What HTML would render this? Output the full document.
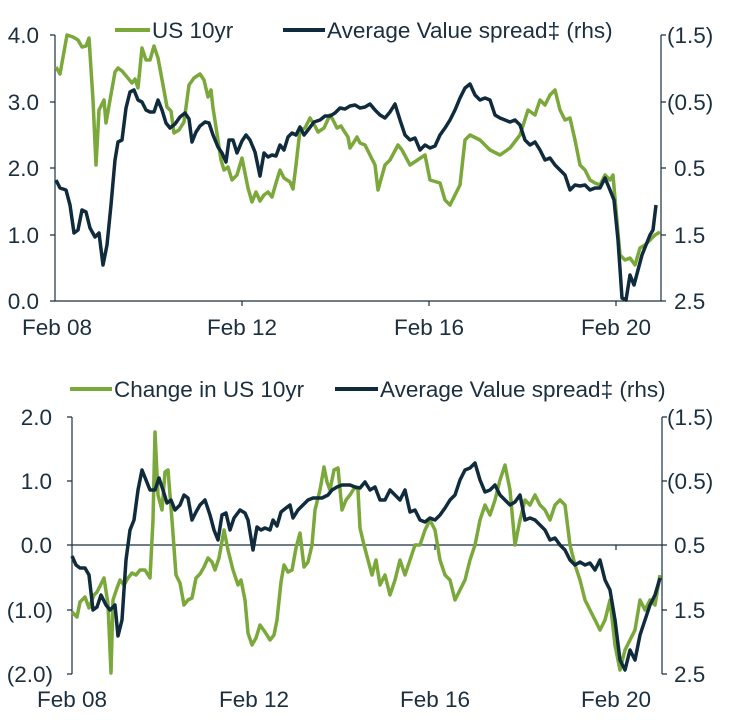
<!DOCTYPE html><html><head><style>body{margin:0;background:#fff}svg text{font-family:"Liberation Sans",Arial,sans-serif;fill:#1b2f3f}</style></head><body>
<svg width="732" height="717" xmlns="http://www.w3.org/2000/svg">
<g stroke="#1b2f3f" stroke-width="1.2" fill="none">
<path d="M55,35V301H661V35"/>
<path d="M50,35H55M50,102H55M50,168H55M50,235H55M50,301H55M661,35H666M661,102H666M661,168H666M661,235H666M661,301H666M242,301V306M429,301V306M616,301V306"/>
<path d="M72,417V674M67,417H72M67,481H72M67,545H72M67,610H72M67,674H72M72,545H662M662,417V674M662,417H667M662,481H667M662,545H667M662,610H667M662,674H667M254,545V550M435,545V550M616,545V550"/>
</g>
<g font-size="22.5">
<text x="39" y="43" text-anchor="end">4.0</text><text x="39" y="110" text-anchor="end">3.0</text><text x="39" y="176" text-anchor="end">2.0</text><text x="39" y="243" text-anchor="end">1.0</text><text x="39" y="309" text-anchor="end">0.0</text>
<text x="667" y="43">(1.5)</text><text x="667" y="110">(0.5)</text><text x="674" y="176">0.5</text><text x="674" y="243">1.5</text><text x="674" y="309">2.5</text>
<text x="57" y="335" text-anchor="middle">Feb 08</text><text x="242" y="335" text-anchor="middle">Feb 12</text><text x="429" y="335" text-anchor="middle">Feb 16</text><text x="616" y="335" text-anchor="middle">Feb 20</text>
<text x="52" y="425" text-anchor="end">2.0</text><text x="52" y="489" text-anchor="end">1.0</text><text x="52" y="553" text-anchor="end">0.0</text><text x="53" y="618" text-anchor="end">(1.0)</text><text x="53" y="682" text-anchor="end">(2.0)</text>
<text x="667" y="425">(1.5)</text><text x="667" y="489">(0.5)</text><text x="674" y="553">0.5</text><text x="674" y="618">1.5</text><text x="674" y="682">2.5</text>
<text x="72" y="707" text-anchor="middle">Feb 08</text><text x="254" y="707" text-anchor="middle">Feb 12</text><text x="435" y="707" text-anchor="middle">Feb 16</text><text x="616" y="707" text-anchor="middle">Feb 20</text>
<text x="152" y="38">US 10yr</text><text x="327" y="38">Average Value spread‡ (rhs)</text>
<text x="114" y="397">Change in US 10yr</text><text x="380" y="397">Average Value spread‡ (rhs)</text>
</g>
<g fill="none" stroke-width="4" stroke-linejoin="round">
<path stroke="#7aa83a" d="M115,30H150M70,389H112"/>
<path stroke="#0f2b3c" d="M283,30H325M335,389H378"/>
</g>
<g fill="none" stroke-width="3.5" stroke-linejoin="round">
<polyline stroke="#7aa83a" points="56,67 60,74 67,35 73,37 78,40 82,47 86,46 89,38 93,100 96,165 99,110 104,100 106,123 110,100 115,72 118,68 122,71 127,77 132,83 135,79 138,88 142,48 146,60 150,60 154,46 158,58 163,85 167,107 171,111 174,133 179,130 184,122 189,85 194,78 200,74 204,80 208,97 211,90 213,108 218,140 221,160 224,170 228,167 232,180 237,175 242,158 248,188 252,202 256,192 260,201 264,195 268,192 272,197 276,183 280,170 284,178 290,182 293,189 296,165 300,130 305,128 310,118 315,126 318,132 324,128 330,115 333,120 337,128 341,126 344,131 348,137 350,148 354,142 357,137 360,143 365,145 370,155 375,165 378,190 385,165 390,160 398,145 402,150 410,165 425,155 430,180 440,183 445,200 450,205 455,195 460,185 465,140 470,135 480,140 490,150 500,155 510,148 520,135 528,110 535,115 540,100 545,105 550,95 555,90 560,110 565,120 570,118 575,140 580,165 585,170 590,180 595,183 600,185 605,175 610,180 613,175 616,210 620,255 625,260 630,258 635,265 640,248 645,245 650,240 655,235 660,232"/>
<polyline stroke="#0f2b3c" points="56,180 60,188 66,190 70,205 74,233 78,230 82,210 86,212 90,228 95,237 99,233 103,265 107,245 111,205 115,160 118,142 122,140 126,108 130,92 134,90 138,100 142,102 146,110 150,112 154,112 158,100 162,110 166,123 170,128 175,124 180,117 185,113 189,119 192,142 196,132 200,126 205,122 209,123 213,135 218,147 222,153 226,162 229,140 233,140 237,153 242,141 246,135 250,140 255,152 260,176 264,153 268,157 272,155 276,156 280,145 284,150 288,137 292,133 296,135 300,127 304,135 308,130 314,122 320,120 325,116 330,116 335,113 340,108 345,109 350,106 355,105 360,108 365,107 370,104 375,110 380,115 385,118 390,112 395,104 400,120 405,135 410,140 415,138 420,150 425,145 430,148 435,146 440,135 445,128 450,120 455,110 460,98 465,88 470,84 475,95 480,100 485,98 490,100 495,115 500,118 505,120 510,122 515,120 520,125 525,140 530,145 535,142 540,150 545,160 550,158 555,165 560,170 565,175 570,190 575,185 580,186 585,185 590,190 595,188 600,188 605,178 610,190 614,200 618,240 622,298 626,300 630,275 634,285 638,270 642,255 646,245 650,235 653,230 656,205"/>
<polyline stroke="#7aa83a" points="72,612 77,617 80,602 85,597 89,608 94,595 97,592 100,586 104,578 108,604 111,673 113,600 117,588 120,580 124,585 128,578 132,573 136,575 140,570 145,570 150,578 153,520 155,432 158,495 162,510 165,472 168,470 172,520 176,575 180,583 184,605 188,600 192,598 196,578 200,574 204,567 208,558 212,562 215,570 219,558 224,530 228,550 233,570 238,585 241,580 245,600 248,633 252,645 256,638 260,625 265,632 270,640 274,635 277,620 281,582 284,565 288,572 292,570 296,548 300,533 304,567 308,562 312,545 315,510 320,490 324,467 327,482 330,490 334,470 338,468 342,510 346,500 350,495 355,487 358,490 360,528 364,545 368,560 372,575 376,560 380,585 385,575 390,595 395,580 400,560 405,575 410,560 415,545 420,545 425,530 430,520 435,530 440,560 445,575 450,580 455,600 460,590 465,580 470,560 475,545 480,520 485,505 490,515 495,500 500,480 505,465 510,490 515,545 520,520 525,500 530,505 535,495 540,505 545,510 550,520 555,505 560,500 565,505 570,545 575,565 580,580 585,600 590,610 595,620 600,630 605,620 610,600 615,645 620,670 625,650 630,640 635,630 640,600 645,610 650,600 655,605 660,575"/>
<polyline stroke="#0f2b3c" points="72,556 76,565 80,568 85,568 89,575 93,610 97,607 101,595 106,605 110,610 115,605 118,636 122,620 126,560 130,530 134,520 138,490 142,470 146,480 150,490 155,490 159,478 163,490 167,503 171,500 175,510 180,505 184,495 188,498 192,520 196,512 200,505 205,500 210,515 214,530 218,540 222,515 226,513 230,530 234,518 240,510 245,513 248,520 253,550 257,527 261,530 265,528 270,530 273,520 277,526 281,512 286,508 290,505 293,518 298,510 303,505 308,500 313,498 318,498 322,498 328,495 332,490 337,487 342,485 346,485 350,485 355,487 360,488 365,482 370,490 375,487 380,500 385,500 390,490 395,495 400,500 405,490 410,512 415,510 420,520 425,522 430,518 435,520 440,515 445,508 450,500 455,495 460,480 465,470 470,468 475,463 480,480 485,492 490,490 495,485 500,495 505,500 510,505 515,502 520,495 525,520 530,518 535,520 540,525 545,530 550,540 555,538 560,545 565,550 570,560 575,565 580,562 585,565 590,563 595,570 600,560 605,580 610,590 615,620 620,660 625,670 630,650 635,660 640,635 645,620 650,605 655,595 660,578"/>
</g>
</svg></body></html>
